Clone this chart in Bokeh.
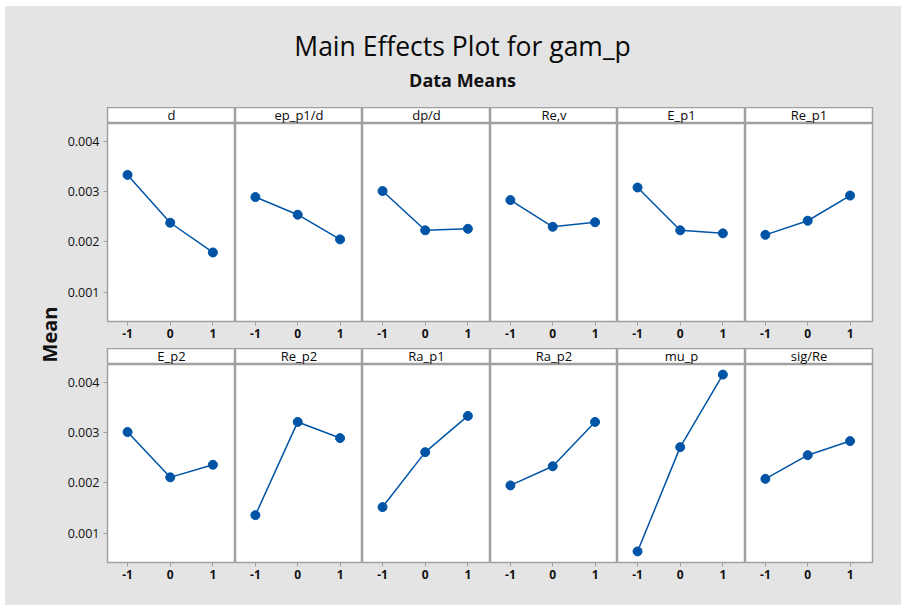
from math import pi
from bokeh.plotting import figure
from bokeh.layouts import row, column
from bokeh.models import Range1d, FixedTicker, PrintfTickFormatter, Label
from bokeh.embed import file_html
from bokeh.resources import INLINE

# ---------------- data ----------------
levels = [-1, 0, 1]
factors = ["d", "ep_p1/d", "dp/d", "Re,v", "E_p1", "Re_p1",
           "E_p2", "Re_p2", "Ra_p1", "Ra_p2", "mu_p", "sig/Re"]
mean_d = [0.00333, 0.00238, 0.00179]
mean_ep_p1_d = [0.00289, 0.00254, 0.00205]
mean_dp_d = [0.00301, 0.00223, 0.00226]
mean_Re_v = [0.00283, 0.00230, 0.00239]
mean_E_p1 = [0.00308, 0.00223, 0.00217]
mean_Re_p1 = [0.00214, 0.00242, 0.00292]
mean_E_p2 = [0.00301, 0.00211, 0.00236]
mean_Re_p2 = [0.00136, 0.00321, 0.00289]
mean_Ra_p1 = [0.00152, 0.00261, 0.00333]
mean_Ra_p2 = [0.00195, 0.00233, 0.00321]
mean_mu_p = [0.00064, 0.00271, 0.00415]
mean_sig_Re = [0.00208, 0.00255, 0.00283]
means = [mean_d, mean_ep_p1_d, mean_dp_d, mean_Re_v, mean_E_p1, mean_Re_p1,
         mean_E_p2, mean_Re_p2, mean_Ra_p1, mean_Ra_p2, mean_mu_p, mean_sig_Re]
y_ticks = [0.001, 0.002, 0.003, 0.004]
x_ticks = [-1, 0, 1]

title_text = "Main Effects Plot for gam_p"
subtitle_text = "Data Means"
ylabel_text = "Mean"

# ---------------- style / layout ----------------
BG = "#e4e4e4"
EDGE = "#a0a0a0"
BLUE = "#0054a6"
FONT = "Open Sans"
TXT = "#111111"
BGSTYLE = {"background-color": BG}

TOTAL_W = 896
TITLE_H = 101
YLAB_W = 58
LEFT_B = 44
RIGHT_B = 29
panel_w = [128, 127, 128, 127, 128, 127]
HEAD_H = 16
FRAME_H = 198
below = [27, 43]


def blank(width, height, **kw):
    f = figure(width=width, height=height, output_backend="svg",
               toolbar_location=None, title_location=None,
               x_axis_location=None, y_axis_location=None,
               min_border_left=0, min_border_right=0,
               min_border_top=0, min_border_bottom=0, **kw)
    f.grid.visible = False
    f.border_fill_color = BG
    f.background_fill_color = BG
    f.outline_line_color = None
    return f


# title figure
tf = blank(TOTAL_W, TITLE_H, x_range=Range1d(0, TOTAL_W), y_range=Range1d(0, TITLE_H))
tf.add_layout(Label(x=457, y=61.5, text=title_text, text_align="center",
                    text_baseline="middle", text_font=FONT,
                    text_font_size="26.5px", text_color="#0a0a0a"))
tf.add_layout(Label(x=457, y=28, text=subtitle_text, text_align="center",
                    text_baseline="middle", text_font=FONT,
                    text_font_size="18px", text_font_style="bold", text_color=TXT))

# y label figure
body_h = sum(HEAD_H + FRAME_H + b for b in below)
yf = blank(YLAB_W, body_h, x_range=Range1d(0, YLAB_W), y_range=Range1d(0, body_h))
yf.add_layout(Label(x=44, y=body_h - 227, text=ylabel_text, angle=pi / 2,
                    text_align="center", text_baseline="middle", text_font=FONT,
                    text_font_size="20px", text_font_style="bold", text_color=TXT))


def make_panel(name, vals, col, r):
    ml = LEFT_B if col == 0 else 0
    mr = RIGHT_B if col == 5 else 0
    w = panel_w[col] + ml + mr

    h = figure(width=w, height=HEAD_H, output_backend="svg", toolbar_location=None,
               title_location=None, x_axis_location=None, y_axis_location=None,
               x_range=Range1d(-1, 1), y_range=Range1d(0, HEAD_H),
               min_border_left=ml, min_border_right=mr,
               min_border_top=0, min_border_bottom=0)
    h.grid.visible = False
    h.border_fill_color = BG
    h.background_fill_color = "white"
    h.outline_line_color = EDGE
    h.outline_line_width = 1.5
    h.add_layout(Label(x=0, y=8.2, text=name, text_align="center",
                       text_baseline="middle", text_font=FONT,
                       text_font_size="13px", text_color="#0a0a0a"))

    p = figure(width=w, height=FRAME_H + below[r], output_backend="svg",
               toolbar_location=None, title_location=None,
               x_range=Range1d(-1.47, 1.53), y_range=Range1d(0.00042, 0.00435),
               y_axis_location="left" if col == 0 else None,
               min_border_left=ml, min_border_right=mr,
               min_border_top=0, min_border_bottom=below[r])
    p.grid.visible = False
    p.border_fill_color = BG
    p.background_fill_color = "white"
    p.outline_line_color = EDGE
    p.outline_line_width = 1.5

    p.xaxis.ticker = FixedTicker(ticks=x_ticks)
    p.xaxis.formatter = PrintfTickFormatter(format="%d")
    p.xaxis.major_label_text_font = FONT
    p.xaxis.major_label_text_font_size = "12px"
    p.xaxis.major_label_text_font_style = "bold"
    p.xaxis.major_label_text_color = TXT
    p.xaxis.major_tick_in = 0
    p.xaxis.major_tick_out = 4
    p.xaxis.major_tick_line_color = EDGE
    p.xaxis.minor_tick_line_color = None
    p.xaxis.axis_line_color = None
    p.xaxis.major_label_standoff = 3
    if col == 0:
        p.yaxis.ticker = FixedTicker(ticks=y_ticks)
        p.yaxis.formatter = PrintfTickFormatter(format="%.3f")
        p.yaxis.major_label_text_font = FONT
        p.yaxis.major_label_text_font_size = "12.5px"
        p.yaxis.major_label_text_color = TXT
        p.yaxis.major_tick_in = 0
        p.yaxis.major_tick_out = 4
        p.yaxis.major_tick_line_color = EDGE
        p.yaxis.minor_tick_line_color = None
        p.yaxis.axis_line_color = None
        p.yaxis.major_label_standoff = 4

    p.line(levels, vals, line_color=BLUE, line_width=1.5)
    p.scatter(levels, vals, size=9, fill_color=BLUE, line_color=BLUE)
    return column(h, p, spacing=0, styles=BGSTYLE)


rows = []
for r in range(2):
    cells = [make_panel(factors[r * 6 + c], means[r * 6 + c], c, r) for c in range(6)]
    rows.append(row(*cells, spacing=0, styles=BGSTYLE))

body = row(yf, column(*rows, spacing=0, styles=BGSTYLE), spacing=0, styles=BGSTYLE)
layout = column(tf, body, spacing=0, styles=BGSTYLE, margin=(6, 0, 0, 5))

open("out.html", "w").write(file_html(layout, INLINE))
